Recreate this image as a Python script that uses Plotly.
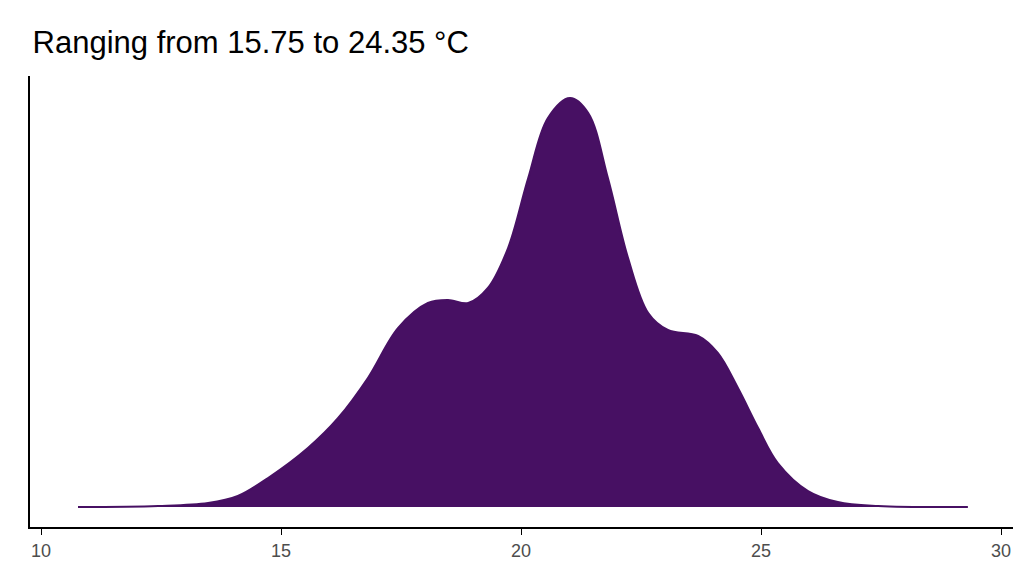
import plotly.graph_objects as go

# temperature (°C) and density (relative units)
temp = [10.77, 12.44, 13.48, 14.1, 14.73, 15.56, 16.19, 16.81, 17.44, 18.06, 18.48, 18.9,
        19.31, 19.73, 20.15, 20.56, 21.02, 21.4, 21.81, 22.23, 22.65, 23.06, 23.69, 24.1,
        24.52, 24.94, 25.35, 25.98, 26.6, 27.44, 29.31]
density = [0, 1, 4, 11, 29, 59, 89, 129, 179, 204, 207, 204,
           219, 259, 329, 389, 409, 394, 329, 249, 194, 177, 171, 154,
           119, 79, 44, 16, 5, 1, 0]
xticks = [10, 15, 20, 25, 30]

fig = go.Figure()
fig.add_trace(go.Scatter(
    x=temp, y=density, mode="lines", fill="tozeroy",
    line={"color": "#471063", "width": 2, "shape": "spline", "smoothing": 1.0},
    fillcolor="#471063", hoverinfo="skip",
))

fig.update_layout(
    width=1024, height=576,
    margin={"l": 22, "r": 19, "t": 68, "b": 57},
    plot_bgcolor="white", paper_bgcolor="white",
    showlegend=False,
    title={"text": "Ranging from 15.75 to 24.35 °C", "x": 0.024, "xanchor": "left",
           "y": 0.94, "yanchor": "middle",
           "font": {"family": "Liberation Sans, Arial", "size": 31, "color": "black"}},
    font={"family": "Liberation Sans, Arial"},
)
fig.update_xaxes(
    range=[9.77, 30.25], tickvals=xticks, showgrid=False, zeroline=False,
    showline=True, linecolor="black", linewidth=2, ticks="outside", ticklen=6,
    tickcolor="black", tickfont={"size": 18, "color": "#4d4d4d"},
)
fig.update_yaxes(
    range=[-20, 431], showticklabels=False, showgrid=False, zeroline=False,
    showline=True, linecolor="black", linewidth=2, ticks="",
)

fig.write_html("out.html")
